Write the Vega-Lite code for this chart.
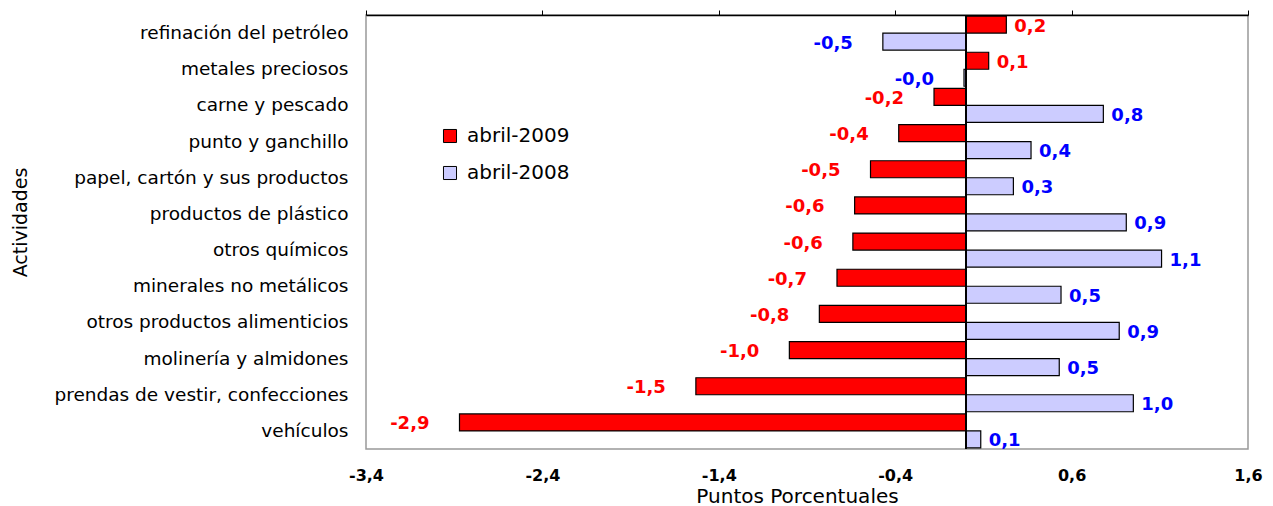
{
  "$schema": "https://vega.github.io/schema/vega-lite/v6.json",
  "width": 882,
  "height": 434,
  "autosize": "none",
  "padding": {"left": 366, "top": 15, "right": 25, "bottom": 57},
  "background": "white",
  "config": {
    "font": "DejaVu Sans",
    "view": {"stroke": "#999999", "strokeWidth": 1.5}
  },
  "data": {
    "values": [
      {"actividad": "refinación del petróleo", "serie": "abril-2009", "valor": 0.23, "etiqueta": "0,2"},
      {"actividad": "refinación del petróleo", "serie": "abril-2008", "valor": -0.47, "etiqueta": "-0,5"},
      {"actividad": "metales preciosos", "serie": "abril-2009", "valor": 0.13, "etiqueta": "0,1"},
      {"actividad": "metales preciosos", "serie": "abril-2008", "valor": -0.01, "etiqueta": "-0,0"},
      {"actividad": "carne y pescado", "serie": "abril-2009", "valor": -0.18, "etiqueta": "-0,2"},
      {"actividad": "carne y pescado", "serie": "abril-2008", "valor": 0.78, "etiqueta": "0,8"},
      {"actividad": "punto y ganchillo", "serie": "abril-2009", "valor": -0.38, "etiqueta": "-0,4"},
      {"actividad": "punto y ganchillo", "serie": "abril-2008", "valor": 0.37, "etiqueta": "0,4"},
      {"actividad": "papel, cartón y sus productos", "serie": "abril-2009", "valor": -0.54, "etiqueta": "-0,5"},
      {"actividad": "papel, cartón y sus productos", "serie": "abril-2008", "valor": 0.27, "etiqueta": "0,3"},
      {"actividad": "productos de plástico", "serie": "abril-2009", "valor": -0.63, "etiqueta": "-0,6"},
      {"actividad": "productos de plástico", "serie": "abril-2008", "valor": 0.91, "etiqueta": "0,9"},
      {"actividad": "otros químicos", "serie": "abril-2009", "valor": -0.64, "etiqueta": "-0,6"},
      {"actividad": "otros químicos", "serie": "abril-2008", "valor": 1.11, "etiqueta": "1,1"},
      {"actividad": "minerales no metálicos", "serie": "abril-2009", "valor": -0.73, "etiqueta": "-0,7"},
      {"actividad": "minerales no metálicos", "serie": "abril-2008", "valor": 0.54, "etiqueta": "0,5"},
      {"actividad": "otros productos alimenticios", "serie": "abril-2009", "valor": -0.83, "etiqueta": "-0,8"},
      {"actividad": "otros productos alimenticios", "serie": "abril-2008", "valor": 0.87, "etiqueta": "0,9"},
      {"actividad": "molinería y almidones", "serie": "abril-2009", "valor": -1.0, "etiqueta": "-1,0"},
      {"actividad": "molinería y almidones", "serie": "abril-2008", "valor": 0.53, "etiqueta": "0,5"},
      {"actividad": "prendas de vestir, confecciones", "serie": "abril-2009", "valor": -1.53, "etiqueta": "-1,5"},
      {"actividad": "prendas de vestir, confecciones", "serie": "abril-2008", "valor": 0.95, "etiqueta": "1,0"},
      {"actividad": "vehículos", "serie": "abril-2009", "valor": -2.87, "etiqueta": "-2,9"},
      {"actividad": "vehículos", "serie": "abril-2008", "valor": 0.085, "etiqueta": "0,1"}
    ]
  },
  "encoding": {
    "y": {
      "field": "actividad",
      "type": "nominal",
      "sort": null,
      "scale": {"paddingInner": 0.06, "paddingOuter": 0.03},
      "axis": {
        "title": "Actividades",
        "titleFont": "DejaVu Sans",
        "titleFontSize": 19,
        "titleFontWeight": "normal",
        "titleColor": "#000000",
        "titleX": -336,
        "titleY": 207,
        "titleAngle": 270,
        "titleAlign": "center",
        "titleBaseline": "bottom",
        "labelFont": "DejaVu Sans",
        "labelFontSize": 18.5,
        "labelColor": "#000000",
        "labelPadding": 18,
        "labelLimit": 400,
        "ticks": false,
        "domain": false
      }
    },
    "yOffset": {
      "field": "serie",
      "type": "nominal",
      "sort": ["abril-2009", "abril-2008"],
      "scale": {"paddingInner": 0, "paddingOuter": 0}
    }
  },
  "layer": [
    {
      "mark": {"type": "bar", "stroke": "#000000", "strokeWidth": 1.2},
      "encoding": {
        "x": {
          "field": "valor",
          "type": "quantitative",
          "scale": {"domain": [-3.4, 1.6], "nice": false, "zero": false},
          "axis": {
            "orient": "bottom",
            "values": [-3.4, -2.4, -1.4, -0.4, 0.6, 1.6],
            "labelExpr": "datum.value < 0 ? '-' + replace(format(abs(datum.value), '.1f'), '.', ',') : replace(format(datum.value, '.1f'), '.', ',')",
            "labelFont": "DejaVu Sans",
            "labelFontSize": 16,
            "labelFontWeight": "bold",
            "labelColor": "#000000",
            "labelPadding": 18,
            "labelFlush": false,
            "labelOverlap": false,
            "ticks": false,
            "domain": false,
            "grid": false,
            "title": "Puntos Porcentuales",
            "titleFont": "DejaVu Sans",
            "titleFontSize": 20,
            "titleFontWeight": "normal",
            "titleColor": "#000000",
            "titlePadding": 3,
            "titleX": 431
          }
        },
        "color": {
          "field": "serie",
          "type": "nominal",
          "scale": {"domain": ["abril-2009", "abril-2008"], "range": ["#FF0000", "#CCCCFF"]},
          "legend": {
            "title": null,
            "orient": "none",
            "legendX": 74,
            "legendY": 111,
            "symbolType": "square",
            "symbolSize": 170,
            "symbolStrokeColor": "#000000",
            "symbolStrokeWidth": 1,
            "labelFont": "DejaVu Sans",
            "labelFontSize": 20,
            "labelColor": "#000000",
            "labelOffset": 7,
            "rowPadding": 17
          }
        }
      }
    },
    {
      "mark": {"type": "rule", "color": "#000000", "strokeWidth": 1.5},
      "encoding": {
        "x": {
          "datum": 0,
          "type": "quantitative",
          "axis": {
            "orient": "top",
            "values": [-3.4, -2.4, -1.4, -0.4, 0.6, 1.6],
            "labels": false,
            "ticks": true,
            "tickSize": 5,
            "tickColor": "#000000",
            "domain": true,
            "domainColor": "#000000",
            "domainWidth": 1.5,
            "grid": false,
            "title": null
          }
        },
        "y": null,
        "yOffset": null
      }
    },
    {
      "transform": [{"filter": "datum.valor >= 0"}],
      "mark": {"type": "text", "align": "left", "baseline": "middle", "dx": 8, "dy": 2, "fontWeight": "bold", "fontSize": 18, "font": "DejaVu Sans"},
      "encoding": {
        "x": {"field": "valor", "type": "quantitative", "axis": null},
        "text": {"field": "etiqueta"},
        "color": {"condition": {"test": "datum.serie === 'abril-2009'", "value": "#FF0000"}, "value": "#0000FF"}
      }
    },
    {
      "transform": [{"filter": "datum.valor < 0"}],
      "mark": {"type": "text", "align": "right", "baseline": "middle", "dx": -30, "dy": 2, "fontWeight": "bold", "fontSize": 18, "font": "DejaVu Sans"},
      "encoding": {
        "x": {"field": "valor", "type": "quantitative", "axis": null},
        "text": {"field": "etiqueta"},
        "color": {"condition": {"test": "datum.serie === 'abril-2009'", "value": "#FF0000"}, "value": "#0000FF"}
      }
    }
  ]
}
